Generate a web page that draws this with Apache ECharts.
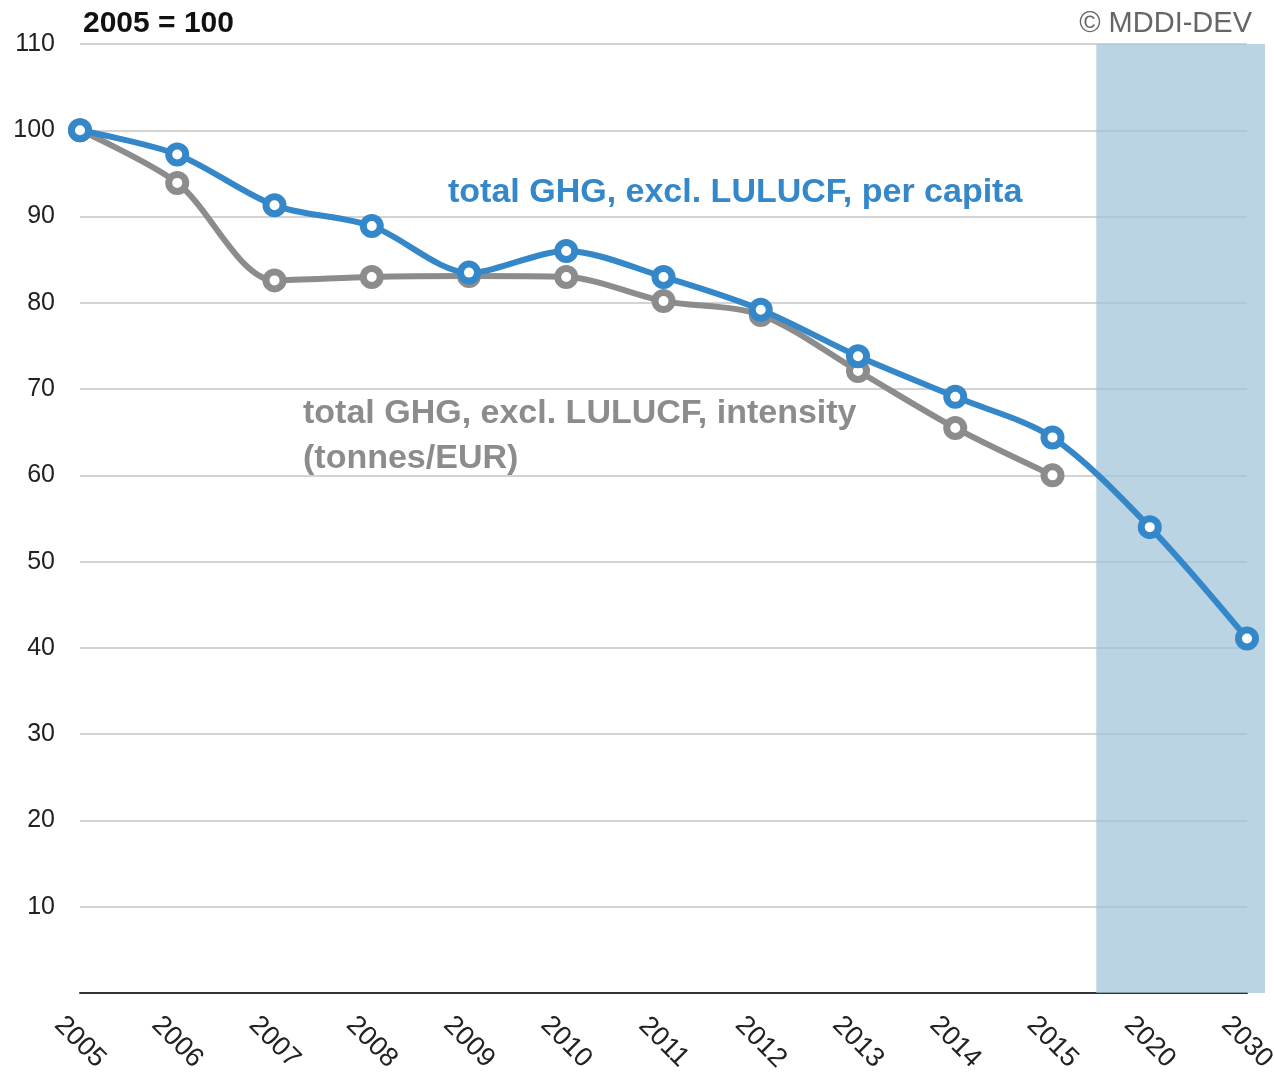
<!DOCTYPE html>
<html>
<head>
<meta charset="utf-8">
<script src="https://cdn.jsdelivr.net/npm/echarts@6/dist/echarts.min.js"></script>
<style>
  html, body { margin: 0; padding: 0; background: #fff; }
  #chart { width: 1274px; height: 1076px; }
</style>
</head>
<body>
<div id="chart"></div>
<script>
const years = ["2005", "2006", "2007", "2008", "2009", "2010", "2011", "2012", "2013", "2014", "2015", "2020", "2030"];
const perCapita = [100, 97.2, 91.3, 88.9, 83.5, 86.0, 83.0, 79.2, 73.8, 69.1, 64.4, 54.0, 41.1];
const intensity = [100, 93.9, 82.6, 83.0, 83.1, 83.0, 80.2, 78.6, 72.1, 65.5, 60.0];
const yTicks = [10, 20, 30, 40, 50, 60, 70, 80, 90, 100, 110];
// shaded projection period, in category index units
const projectionBand = [10.45, 12.185];

const font = "'Liberation Sans', Arial, Helvetica, sans-serif";
const blue = "#3487c9";
const gray = "#8c8c8c";

function toPoints(values) {
  return values.map((v, i) => [i, v]);
}

function lineSeries(name, values, color, z) {
  return {
    name: name,
    type: "line",
    data: toPoints(values),
    smooth: 0.3,
    z: z,
    symbol: "circle",
    symbolSize: 17,
    lineStyle: { color: color, width: 6 },
    itemStyle: { color: "#fff", borderColor: color, borderWidth: 7 },
  };
}

const chart = echarts.init(document.getElementById("chart"));

const option = {
  animation: false,
  backgroundColor: "#fff",
  grid: [
    { left: 80, right: 27, top: 44, bottom: 83, outerBoundsMode: "none" },
    // wider twin grid, same scale, only for the shaded band
    { left: 80, right: 9, top: 44, bottom: 83, outerBoundsMode: "none" },
  ],
  title: [
    {
      text: "2005 = 100",
      left: 78,
      top: 4,
      textStyle: { fontFamily: font, fontSize: 30, fontWeight: "bold", color: "#111" },
    },
    {
      text: "© MDDI-DEV",
      right: 17,
      top: 4,
      textStyle: { fontFamily: font, fontSize: 29, fontWeight: "normal", color: "#666" },
    },
  ],
  xAxis: [
    {
      type: "value",
      gridIndex: 0,
      min: 0,
      max: years.length - 1,
      interval: 1,
      splitLine: { show: false },
      axisTick: { show: false },
      axisLine: { show: true, lineStyle: { color: "#333", width: 2 } },
      axisLabel: {
        rotate: -45,
        align: "center",
        verticalAlign: "middle",
        margin: 49,
        fontFamily: font,
        fontSize: 27,
        color: "#222",
        formatter: (v) => years[v] || "",
      },
    },
    {
      type: "value",
      gridIndex: 1,
      min: 0,
      max: projectionBand[1],
      show: false,
    },
  ],
  yAxis: [
    {
      type: "value",
      gridIndex: 0,
      min: 0,
      max: 110,
      interval: 10,
      axisLine: { show: false },
      axisTick: { show: false },
      splitLine: { lineStyle: { color: "#c4c4c4", width: 1.5 } },
      axisLabel: {
        margin: 25,
        fontFamily: font,
        fontSize: 25,
        color: "#222",
        formatter: (v) => (yTicks.includes(v) ? String(v) : ""),
      },
    },
    {
      type: "value",
      gridIndex: 1,
      min: 0,
      max: 110,
      show: false,
    },
  ],
  series: [
    {
      name: "projection",
      type: "line",
      xAxisIndex: 1,
      yAxisIndex: 1,
      data: [],
      z: 1,
      markArea: {
        silent: true,
        itemStyle: { color: "rgba(160, 196, 218, 0.72)" },
        data: [[{ xAxis: projectionBand[0], yAxis: 110 }, { xAxis: projectionBand[1], yAxis: 0 }]],
      },
    },
    lineSeries("intensity", intensity, gray, 3),
    lineSeries("per capita", perCapita, blue, 4),
  ],
  graphic: [
    {
      type: "text",
      left: 448,
      top: 176,
      style: {
        text: "total GHG, excl. LULUCF, per capita",
        font: "bold 34px " + font,
        fill: blue,
      },
    },
    {
      type: "text",
      left: 303,
      top: 391,
      style: {
        text: "total GHG, excl. LULUCF, intensity\n(tonnes/EUR)",
        font: "bold 34px " + font,
        lineHeight: 45,
        fill: gray,
      },
    },
  ],
};

chart.setOption(option);
</script>
</body>
</html>
